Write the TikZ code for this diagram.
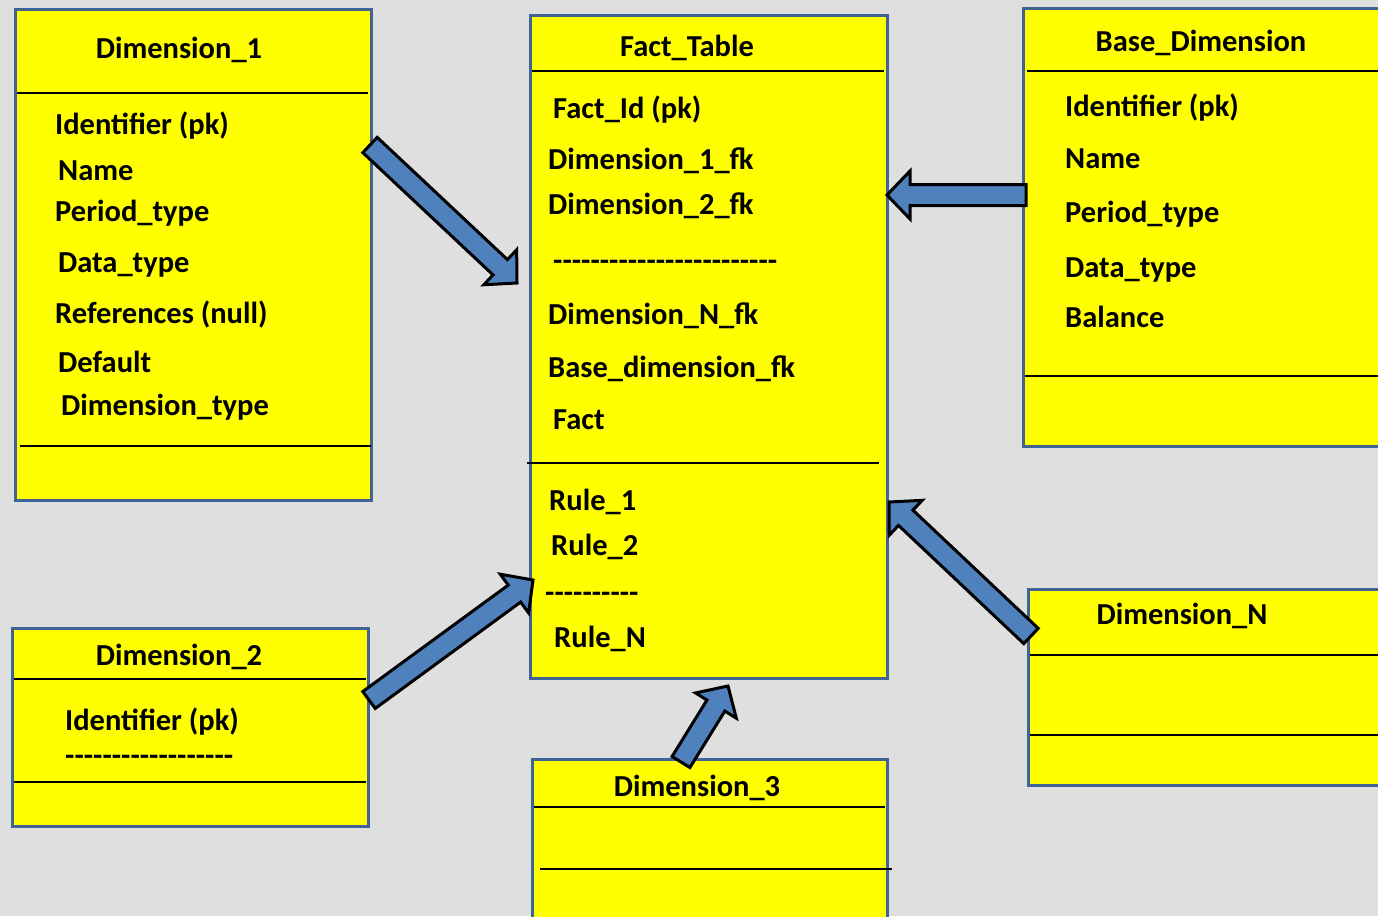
\documentclass[tikz,border=0pt]{standalone}
\usepackage{fontspec}
\setmainfont{Carlito}[Ligatures=TeXOff]
\usetikzlibrary{calc}
\definecolor{bg}{HTML}{DFDFDF}
\definecolor{boxedge}{HTML}{3F6394}
\definecolor{arrowblue}{HTML}{4F81BD}
\definecolor{boxfill}{HTML}{FFFF00}
\tikzset{
  tbl/.style={draw=boxedge, fill=boxfill, line width=3pt, anchor=north west, inner sep=0pt, outer sep=0pt},
  divider/.style={draw=black, line width=1.6pt},
  ttl/.style={font=\fontsize{30.5}{34}\selectfont\bfseries, anchor=base, inner sep=0pt},
  item/.style={font=\fontsize{30.5}{34}\selectfont\bfseries, anchor=base west, inner sep=0pt},
  blockarr/.style={fill=arrowblue, draw=black, line width=3pt, line join=miter},
}
\newcommand{\blockarrow}[2]{%
  \coordinate (#1-neck) at ($(#2)!23pt!(#1)$);
  \path[blockarr] ($(#1)!10.5pt!90:(#2)$) -- ($(#1-neck)!10.5pt!90:(#2)$) -- ($(#1-neck)!24pt!90:(#2)$) -- (#2)
    -- ($(#1-neck)!24pt!-90:(#2)$) -- ($(#1-neck)!10.5pt!-90:(#2)$) -- ($(#1)!10.5pt!-90:(#2)$) -- cycle;
}
\begin{document}
\begin{tikzpicture}[x=1pt,y=-1pt]
\useasboundingbox (0,0) rectangle (1378,916);
\clip (0,0) rectangle (1378,916);
\fill[bg] (0,0) rectangle (1378,916);

% Dimension_1
\node[tbl, minimum width=356pt, minimum height=491pt] (dim1) at (15,9) {};
\node[ttl] (dim1t) at (179,58) {Dimension\_1};
\draw[divider] (17,93) -- (368,93);
\node[item] (d1a) at (55,134) {Identifier (pk)};
\node[item] (d1b) at (58,180) {Name};
\node[item] (d1c) at (55,221) {Period\_type};
\node[item] (d1d) at (58,272) {Data\_type};
\node[item] (d1e) at (55,323) {References (null)};
\node[item] (d1f) at (58,372) {Default};
\node[item] (d1g) at (61,415) {Dimension\_type};
\draw[divider] (20,446) -- (371,446);

% Fact_Table
\node[tbl, minimum width=357pt, minimum height=663pt] (fact) at (530,15) {};
\node[ttl] (factt) at (687,56) {Fact\_Table};
\draw[divider] (532,71) -- (884,71);
\node[item] (fa) at (553,118) {Fact\_Id (pk)};
\node[item] (fb) at (548,169) {Dimension\_1\_fk};
\node[item] (fc) at (548,214) {Dimension\_2\_fk};
\node[item] (fd) at (553,270) {------------------------};
\node[item] (fe) at (548,324) {Dimension\_N\_fk};
\node[item] (ff) at (548,377) {Base\_dimension\_fk};
\node[item] (fg) at (553,429) {Fact};
\draw[divider] (527,463) -- (879,463);
\node[item] (fh) at (549,510) {Rule\_1};
\node[item] (fi) at (551,555) {Rule\_2};
\node[item] (fj) at (545,602) {----------};
\node[item] (fk) at (554,647) {Rule\_N};

% Base_Dimension
\node[tbl, minimum width=370pt, minimum height=438pt] (base) at (1023,8) {};
\node[ttl] (baset) at (1201,51) {Base\_Dimension};
\draw[divider] (1027,71) -- (1378,71);
\node[item] (ba) at (1065,116) {Identifier (pk)};
\node[item] (bb) at (1065,168) {Name};
\node[item] (bc) at (1065,222) {Period\_type};
\node[item] (bd) at (1065,277) {Data\_type};
\node[item] (be) at (1065,327) {Balance};
\draw[divider] (1025,376) -- (1378,376);

% Dimension_2
\node[tbl, minimum width=356pt, minimum height=198pt] (dim2) at (12,628) {};
\node[ttl] (dim2t) at (179,665) {Dimension\_2};
\draw[divider] (14,679) -- (366,679);
\node[item] (d2a) at (65,730) {Identifier (pk)};
\node[item] (d2b) at (65,765) {------------------};
\draw[divider] (14,782) -- (366,782);

% Dimension_3
\node[tbl, minimum width=355pt, minimum height=180pt] (dim3) at (532,759) {};
\node[ttl] (dim3t) at (697,796) {Dimension\_3};
\draw[divider] (534,807) -- (885,807);
\draw[divider] (540,869) -- (892,869);

% Dimension_N
\node[tbl, minimum width=370pt, minimum height=196pt] (dimN) at (1028,589) {};
\node[ttl] (dimNt) at (1182,624) {Dimension\_N};
\draw[divider] (1030,655) -- (1378,655);
\draw[divider] (1030,735) -- (1378,735);

% arrows
\coordinate (a1s) at (370,145);  \coordinate (a1e) at (517,283);
\coordinate (a2s) at (1026,195); \coordinate (a2e) at (887,195);
\coordinate (a3s) at (369,700);  \coordinate (a3e) at (533,580);
\coordinate (a4s) at (1031,636); \coordinate (a4e) at (889,502);
\coordinate (a5s) at (681,762);  \coordinate (a5e) at (728,686);
\blockarrow{a1s}{a1e}
\blockarrow{a2s}{a2e}
\blockarrow{a3s}{a3e}
\blockarrow{a4s}{a4e}
\blockarrow{a5s}{a5e}
\end{tikzpicture}
\end{document}
